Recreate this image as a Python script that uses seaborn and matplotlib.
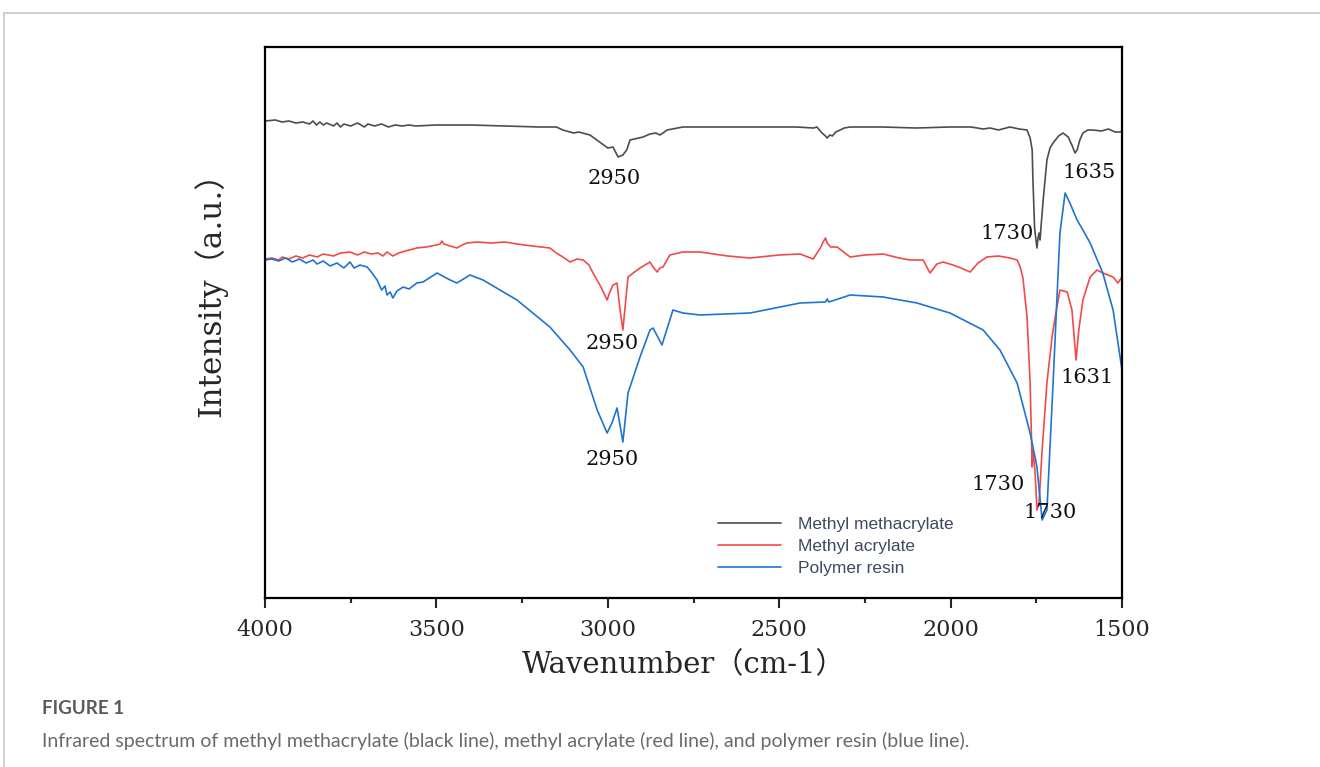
import matplotlib
matplotlib.use("Agg")
import matplotlib.pyplot as plt
from matplotlib.lines import Line2D
from matplotlib.ticker import MultipleLocator
import seaborn as sns
import pandas as pd

# FTIR spectra (wavenumber in cm-1, intensity in arbitrary units)
black_wn = [4000, 3970, 3950, 3930, 3910, 3890, 3870, 3860, 3850, 3840, 3830, 3820, 3800, 3790, 3780, 3770,
            3750, 3730, 3710, 3700, 3680, 3660, 3640, 3620, 3600, 3580, 3560, 3500, 3400, 3300, 3200, 3150,
            3131, 3100, 3085, 3052, 3020, 3000, 2985, 2970, 2956, 2945, 2935, 2910, 2897, 2877, 2860, 2848,
            2835, 2827, 2781, 2731, 2600, 2450, 2400, 2390, 2375, 2365, 2360, 2352, 2345, 2335, 2310, 2293,
            2200, 2100, 2002, 1940, 1905, 1885, 1860, 1827, 1800, 1777, 1768, 1762, 1760, 1755, 1751, 1748,
            1745, 1742, 1739, 1736, 1730, 1719, 1710, 1701, 1685, 1672, 1657, 1645, 1637, 1631, 1623, 1614,
            1600, 1585, 1560, 1540, 1520, 1506, 1500]
black_int = [477, 478, 476, 477, 475, 476, 474, 477, 473, 476, 473, 475, 472, 475, 471, 474,
             472, 475, 471, 474, 472, 474, 471, 473, 472, 473, 472, 473, 473, 472, 471, 471,
             468, 465, 466, 463, 455, 450, 451, 441, 443, 448, 458, 460, 461, 464, 465, 463,
             466, 468, 471, 471, 471, 471, 470, 471, 465, 462, 460, 463, 462, 466, 470, 471,
             471, 470, 471, 471, 469, 470, 468, 471, 469, 468, 460, 448, 420, 370, 358, 350,
             360, 365, 358, 372, 398, 438, 450, 455, 462, 465, 461, 452, 445, 448, 458, 465,
             468, 468, 467, 469, 466, 466, 467]

red_wn = [4000, 3980, 3960, 3950, 3930, 3910, 3890, 3870, 3848, 3830, 3800, 3780, 3752, 3730, 3710, 3690,
          3670, 3656, 3644, 3627, 3610, 3590, 3557, 3530, 3500, 3489, 3484, 3478, 3460, 3440, 3425, 3411,
          3380, 3340, 3300, 3265, 3220, 3169, 3150, 3131, 3110, 3090, 3072, 3055, 3043, 3020, 3002, 2995,
          2985, 2973, 2965, 2956, 2947, 2941, 2926, 2906, 2877, 2868, 2856, 2848, 2839, 2819, 2781, 2731,
          2650, 2585, 2500, 2439, 2401, 2380, 2372, 2365, 2360, 2350, 2331, 2293, 2250, 2197, 2150, 2118,
          2080, 2060, 2040, 2022, 1993, 1970, 1943, 1920, 1894, 1860, 1827, 1806, 1797, 1789, 1777, 1768,
          1762, 1760, 1754, 1748, 1742, 1733, 1719, 1704, 1695, 1681, 1660, 1646, 1634, 1626, 1614, 1593,
          1573, 1556, 1526, 1512, 1500]
red_int = [339, 340, 338, 341, 339, 342, 340, 343, 341, 344, 342, 345, 346, 343, 346, 344,
           345, 342, 346, 342, 345, 347, 350, 351, 353, 354, 357, 354, 352, 350, 353, 355,
           356, 355, 356, 354, 352, 350, 345, 341, 336, 339, 338, 333, 325, 311, 298, 305,
           313, 315, 290, 268, 300, 321, 325, 330, 336, 331, 326, 330, 331, 343, 346, 346,
           342, 340, 343, 344, 339, 350, 356, 360, 355, 351, 351, 341, 343, 344, 340, 338,
           338, 325, 334, 336, 333, 330, 326, 335, 341, 342, 340, 338, 331, 320, 281, 215,
           131, 148, 128, 88, 95, 148, 215, 261, 281, 308, 306, 288, 238, 268, 298, 321,
           328, 325, 321, 315, 321]

blue_wn = [4000, 3980, 3960, 3940, 3920, 3900, 3880, 3860, 3848, 3830, 3810, 3790, 3770, 3752, 3740, 3723,
           3702, 3690, 3673, 3660, 3650, 3644, 3635, 3627, 3615, 3597, 3580, 3557, 3539, 3498, 3460, 3440,
           3402, 3364, 3265, 3169, 3110, 3072, 3031, 3002, 2988, 2973, 2956, 2941, 2906, 2877, 2868, 2842,
           2810, 2781, 2731, 2585, 2439, 2365, 2360, 2355, 2293, 2197, 2098, 2002, 1905, 1856, 1806, 1768,
           1748, 1733, 1719, 1701, 1690, 1681, 1666, 1652, 1631, 1614, 1593, 1556, 1526, 1500]
blue_int = [338, 339, 337, 340, 336, 339, 335, 338, 334, 337, 332, 335, 330, 336, 330, 333,
            331, 326, 318, 308, 312, 303, 306, 300, 307, 311, 309, 315, 316, 325, 318, 315,
            323, 318, 298, 271, 248, 231, 188, 165, 175, 190, 156, 205, 241, 268, 270, 253,
            288, 285, 283, 285, 295, 296, 299, 296, 303, 301, 295, 285, 268, 248, 215, 165,
            131, 78, 88, 215, 298, 365, 405, 395, 378, 368, 355, 325, 288, 228]

series_names = ["Methyl methacrylate", "Methyl acrylate", "Polymer resin"]
series_colors = ["#4d4d4d", "#f24a4a", "#1f74d2"]

# peak labels
peak_text = ["2950", "1730", "1635", "2950", "1631", "2950", "1730", "1730"]
peak_wn = [2982, 1835, 1596, 2988, 1602, 2988, 1862, 1710]
peak_int = [420, 365, 426, 255, 221, 139, 114, 86]

frames = []
for name, wn, inten in zip(series_names, [black_wn, red_wn, blue_wn], [black_int, red_int, blue_int]):
    frames.append(pd.DataFrame({"Wavenumber": wn, "Intensity": inten, "Sample": name}))
df = pd.concat(frames, ignore_index=True)

sns.set_style("white")
serif = ["DejaVu Serif", "Noto Sans CJK SC"]

fig = plt.figure(figsize=(13.2, 7.67), dpi=100)
ax = fig.add_axes([265 / 1320, 1 - 598 / 767, 857 / 1320, 551 / 767])

sns.lineplot(data=df, x="Wavenumber", y="Intensity", hue="Sample", hue_order=series_names,
             palette=series_colors, estimator=None, sort=False, lw=1.2, ax=ax)

ax.set_xlim(4000, 1500)
ax.set_ylim(0, 551)
ax.set_yticks([])
ax.xaxis.set_major_locator(MultipleLocator(500))
ax.xaxis.set_minor_locator(MultipleLocator(250))
ax.tick_params(axis="x", which="major", direction="out", length=7, width=1.5,
               labelsize=16, pad=8, bottom=True)
ax.tick_params(axis="x", which="minor", direction="out", length=3.5, width=1.5, bottom=True)
for lab in ax.get_xticklabels():
    lab.set_family("DejaVu Serif")
for sp in ax.spines.values():
    sp.set_visible(True)
    sp.set_color("black")
    sp.set_linewidth(1.6)

ax.set_xlabel("Wavenumber（cm-1）", fontsize=21, family=serif)
ax.xaxis.set_label_coords(0.488, -0.096)
ax.set_ylabel("Intensity（a.u.）", fontsize=22.5, family=serif)
ax.yaxis.set_label_coords(-0.044, 0.565)

for t, x, y in zip(peak_text, peak_wn, peak_int):
    ax.text(x, y, t, ha="center", va="center", fontsize=15, family="DejaVu Serif", color="#111111")

handles, labels = ax.get_legend_handles_labels()
ax.legend(handles, labels, loc="upper left", bbox_to_anchor=(0.5286, 0.148), frameon=False,
          borderaxespad=0, borderpad=0, handlelength=3.6, handletextpad=1.0, labelspacing=0.42,
          labelcolor="#3d4a5e", prop={"family": "Liberation Sans", "size": 12.5})

# page frame and caption
fig.add_artist(Line2D([4 / 1320, 1], [1 - 13 / 767, 1 - 13 / 767], color="#c8c8c8", lw=1.2))
fig.add_artist(Line2D([4 / 1320, 4 / 1320], [0, 1 - 13 / 767], color="#c8c8c8", lw=1.2))
fig.text(42 / 1320, 1 - 708 / 767, "FIGURE 1", ha="left", va="center", fontsize=13.5,
         fontweight="bold", family="Lato", color="#5a5a5a")
fig.text(42 / 1320, 1 - 741 / 767,
         "Infrared spectrum of methyl methacrylate (black line), methyl acrylate (red line), and polymer resin (blue line).",
         ha="left", va="center", fontsize=14, family="Lato", color="#6a6a6a")

fig.savefig("out.png", dpi=100)
